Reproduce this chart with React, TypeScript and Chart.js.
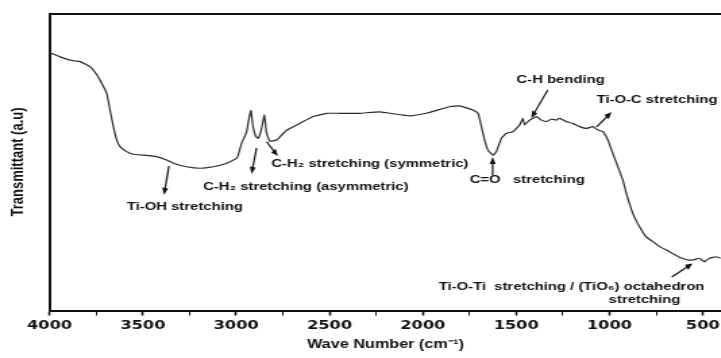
import React, { useEffect, useRef } from "react";
import { Chart, registerables } from "chart.js";

Chart.register(...registerables);

// ---- data ----
const wavenumbers = [
  3997, 3944, 3890, 3860, 3837, 3783, 3746, 3730, 3694, 3676, 3658, 3640, 3622, 3587, 3551, 3498,
  3426, 3373, 3337, 3266, 3194, 3123, 3051, 2998, 2989, 2971, 2955, 2944, 2930, 2921, 2910, 2895,
  2882, 2865, 2849, 2838, 2820, 2784, 2730, 2659, 2588, 2516, 2445, 2338, 2231, 2070, 1981, 1856,
  1802, 1731, 1704, 1686, 1669, 1651, 1624, 1606, 1579, 1552, 1517, 1481, 1464, 1455, 1428, 1392,
  1365, 1338, 1312, 1285, 1267, 1231, 1196, 1160, 1124, 1089, 1062, 1035, 1009, 982, 955, 928,
  910, 875, 839, 803, 768, 732, 679, 625, 580, 554, 518, 491, 464, 428, 405,
];
const transmittance = [
  86.7, 85.4, 84.3, 84.0, 83.8, 82.1, 79.3, 77.6, 73.2, 67.5, 61.9, 57.4, 55.2, 53.5, 52.6, 52.3,
  51.8, 50.7, 49.6, 48.4, 47.9, 48.4, 49.6, 51.2, 52.4, 56.3, 58.5, 60.2, 65.0, 67.3, 62.0, 58.6,
  58.0, 61.0, 65.8, 60.0, 57.0, 57.4, 60.7, 63.0, 65.3, 66.4, 66.4, 66.4, 66.9, 65.5, 66.4, 68.6,
  68.9, 67.5, 66.4, 61.9, 57.4, 54.0, 52.3, 53.5, 58.0, 59.7, 60.2, 62.5, 64.7, 62.5, 64.1, 65.3,
  64.1, 63.6, 64.4, 64.1, 64.7, 63.6, 63.0, 61.9, 61.3, 61.9, 60.8, 60.2, 57.4, 52.9, 48.4, 43.9,
  39.5, 32.7, 28.2, 24.8, 23.2, 21.5, 19.8, 17.9, 17.0, 17.0, 17.6, 16.4, 17.6, 18.1, 17.6,
];
const tickValues = [4000, 3750, 3500, 3250, 3000, 2750, 2500, 2250, 2000, 1750, 1500, 1250, 1000, 750, 500];
const labeledTicks = [4000, 3500, 3000, 2500, 2000, 1500, 1000, 500];
const X_MIN = 400;
const X_MAX = 4000;
const Y_MIN = 0;
const Y_MAX = 100;

// annotation texts, anchored in data units
const noteTexts = [
  { text: "Ti-OH stretching", wn: 3275, t: 34.8, align: "center" },
  { text: "C-H\u2082 stretching (asymmetric)", wn: 2627, t: 41.6, align: "center" },
  { text: "C-H\u2082 stretching (symmetric)", wn: 2284, t: 49.3, align: "center" },
  { text: "C=O   stretching", wn: 1749, t: 43.9, align: "left" },
  { text: "C-H bending", wn: 1262, t: 77.6, align: "center" },
  { text: "Ti-O-C stretching", wn: 1069, t: 70.9, align: "left" },
  { text: "Ti-O-Ti  stretching / (TiO\u2086) octahedron", wn: 1203, t: 7.9, align: "center" },
  { text: "stretching", wn: 812, t: 3.5, align: "center" },
];
const noteArrows = [
  { from: [3360, 48.7], to: [3387, 38.9] },
  { from: [2891, 54.7], to: [2918, 46.0] },
  { from: [2837, 56.8], to: [2777, 52.0] },
  { from: [1626, 45.5], to: [1626, 51.7] },
  { from: [1331, 74.2], to: [1419, 64.8] },
  { from: [1069, 61.8], to: [989, 66.8] },
  { from: [666, 11.3], to: [555, 15.8] },
];

const STRETCH = 1.35;
const LOGICAL_W = 535;
const H = 358;

const notesPlugin = {
  id: "ftirNotes",
  afterDatasetsDraw(chart: any) {
    const { ctx } = chart;
    const xs = chart.scales.x;
    const ys = chart.scales.y;
    ctx.save();
    ctx.fillStyle = "#111";
    ctx.strokeStyle = "#111";
    ctx.font = 'bold 11px "Liberation Sans", Arial, sans-serif';
    ctx.textBaseline = "middle";
    for (const n of noteTexts) {
      ctx.textAlign = n.align as CanvasTextAlign;
      ctx.fillText(n.text, xs.getPixelForValue(n.wn), ys.getPixelForValue(n.t));
    }
    for (const a of noteArrows) {
      const x1 = xs.getPixelForValue(a.from[0]);
      const y1 = ys.getPixelForValue(a.from[1]);
      const x2 = xs.getPixelForValue(a.to[0]);
      const y2 = ys.getPixelForValue(a.to[1]);
      const dx = (x2 - x1) * STRETCH;
      const dy = y2 - y1;
      const len = Math.hypot(dx, dy) || 1;
      const ux = dx / len;
      const uy = dy / len;
      const head = 7;
      const hw = 3;
      const bx = x2 * STRETCH - ux * head;
      const by = y2 - uy * head;
      ctx.lineWidth = 1.2;
      ctx.beginPath();
      ctx.moveTo(x1, y1);
      ctx.lineTo((bx + ux) / STRETCH, by + uy);
      ctx.stroke();
      ctx.beginPath();
      ctx.moveTo(x2, y2);
      ctx.lineTo((bx - uy * hw) / STRETCH, by + ux * hw);
      ctx.lineTo((bx + uy * hw) / STRETCH, by - ux * hw);
      ctx.closePath();
      ctx.fill();
    }
    ctx.restore();
  },
};

export default function App() {
  const canvasRef = useRef<HTMLCanvasElement | null>(null);

  useEffect(() => {
    if (!canvasRef.current) return;
    const points = wavenumbers.map((w, i) => ({ x: w, y: transmittance[i] }));
    const chart = new Chart(canvasRef.current, {
      type: "line",
      data: {
        datasets: [
          {
            data: points,
            borderColor: "#2a2a2a",
            borderWidth: 1.2,
            pointRadius: 0,
            tension: 0.1,
            fill: false,
          },
        ],
      },
      options: {
        animation: false,
        responsive: true,
        maintainAspectRatio: false,
        layout: { padding: 0 },
        plugins: { legend: { display: false }, tooltip: { enabled: false } },
        scales: {
          x: {
            type: "linear",
            position: "bottom",
            reverse: true,
            min: X_MIN,
            max: X_MAX,
            afterBuildTicks: (s: any) => {
              s.ticks = tickValues.slice().reverse().map((v) => ({ value: v }));
            },
            afterFit: (s: any) => {
              s.height = 47.5;
            },
            ticks: {
              autoSkip: false,
              maxRotation: 0,
              padding: 3,
              color: "#111",
              font: { family: '"DejaVu Sans", sans-serif', size: 12, weight: "bold" },
              callback: (v: any) => (labeledTicks.includes(Number(v)) ? String(v) : ""),
            },
            grid: {
              drawOnChartArea: false,
              drawTicks: true,
              tickLength: 5,
              tickWidth: (c: any) => (c.tick && labeledTicks.includes(c.tick.value) ? 1.6 : 1),
              tickColor: "#111",
            },
            border: { display: true, width: 2, color: "#111" },
            title: {
              display: true,
              text: "Wave Number (cm\u207B\u00B9)",
              color: "#111",
              font: { family: '"Liberation Sans", Arial, sans-serif', size: 12, weight: "bold" },
              padding: { top: 0, bottom: 6 },
            },
          },
          xTop: {
            type: "linear",
            position: "top",
            reverse: true,
            min: X_MIN,
            max: X_MAX,
            afterFit: (s: any) => {
              s.height = 13.5;
            },
            ticks: { display: false },
            grid: { drawOnChartArea: false, drawTicks: false },
            border: { display: true, width: 2, color: "#111" },
          },
          y: {
            type: "linear",
            position: "left",
            min: Y_MIN,
            max: Y_MAX,
            afterFit: (s: any) => {
              s.width = 36.7;
            },
            ticks: { display: false },
            grid: { drawOnChartArea: false, drawTicks: false },
            border: { display: true, width: 2, color: "#111" },
            title: {
              display: true,
              text: "Transmittant (a.u)",
              color: "#111",
              font: { family: '"Liberation Sans", Arial, sans-serif', size: 13, weight: "bold" },
              padding: { top: 5.5, bottom: 0 },
            },
          },
        },
      },
      plugins: [notesPlugin],
    });
    return () => chart.destroy();
  }, []);

  return (
    <div
      style={{
        position: "absolute",
        left: 0,
        top: 0,
        width: 721,
        height: H,
        overflow: "hidden",
        background: "#fff",
      }}
    >
      <div
        style={{
          width: LOGICAL_W,
          height: H,
          transform: `scaleX(${STRETCH})`,
          transformOrigin: "0 0",
        }}
      >
        <canvas ref={canvasRef} />
      </div>
    </div>
  );
}
